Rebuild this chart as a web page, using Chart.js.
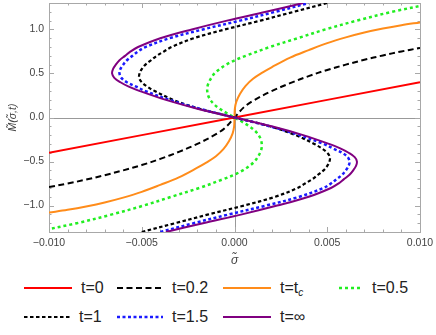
<!DOCTYPE html>
<html>
<head>
<meta charset="utf-8">
<script src="https://cdn.jsdelivr.net/npm/chart.js@4.4.1/dist/chart.umd.min.js"></script>
<style>
  body { margin: 0; background: #fff; font-family: "Liberation Sans", Arial, sans-serif; }
  #wrap { position: relative; width: 436px; height: 335px; }
  #box { position: absolute; left: 0; top: 0; width: 436px; height: 272px; }
  #legend { position: absolute; left: 0; top: 276px; width: 436px; height: 58px; }
  .item { position: absolute; height: 20px; display: flex; align-items: center; font-size: 16px; color: #222; }
  .item svg { margin-right: 9px; }
  .item sub { font-size: 10px; font-style: italic; vertical-align: -3px; }
</style>
</head>
<body>
<div id="wrap">
  <div id="box"><canvas id="respChart"></canvas></div>
  <div id="legend"></div>
</div>
<script>
// series labels
const seriesLabels = ['t=0', 't=0.2', 't=t_c', 't=0.5', 't=1', 't=1.5', 't=\u221E'];
const xTickValues = [-0.010, -0.005, 0, 0.005, 0.010];
const yTickValues = [-1.0, -0.5, 0, 0.5, 1.0];

// t=0 : straight line
const sigmaT0 = [-0.010, 0, 0.010];
const mT0 = [-0.40, 0, 0.40];

// t=0.2
const sigmaT02 = [-0.010, -0.009, -0.008, -0.007, -0.006, -0.005, -0.004, -0.003, -0.002, -0.001, -0.0005, 0,
                  0.0005, 0.001, 0.002, 0.003, 0.004, 0.005, 0.006, 0.007, 0.008, 0.009, 0.010];
const mT02 = [-0.79, -0.75, -0.705, -0.655, -0.60, -0.54, -0.47, -0.39, -0.30, -0.19, -0.115, 0,
              0.115, 0.19, 0.30, 0.39, 0.47, 0.54, 0.60, 0.655, 0.705, 0.75, 0.79];

// t=t_c
const sigmaTc = [-0.010, -0.009, -0.008, -0.007, -0.006, -0.005, -0.004, -0.003, -0.002, -0.0015, -0.001, -0.0006, -0.0003, -0.0001, -0.00002, 0,
                 0.00002, 0.0001, 0.0003, 0.0006, 0.001, 0.0015, 0.002, 0.003, 0.004, 0.005, 0.006, 0.007, 0.008, 0.009, 0.010];
const mTc = [-1.08, -1.048, -1.01, -0.965, -0.91, -0.845, -0.765, -0.68, -0.57, -0.51, -0.44, -0.36, -0.27, -0.18, -0.10, 0,
             0.10, 0.18, 0.27, 0.36, 0.44, 0.51, 0.57, 0.68, 0.765, 0.845, 0.91, 0.965, 1.01, 1.048, 1.08];

// t=0.5
const mT05 = [-1.3, -1.2, -1.1, -1.0, -0.9, -0.8, -0.7, -0.65, -0.6, -0.55, -0.5, -0.45, -0.4, -0.35, -0.3, -0.25, -0.2, -0.15, -0.1, -0.05, 0,
              0.05, 0.1, 0.15, 0.2, 0.25, 0.3, 0.35, 0.4, 0.45, 0.5, 0.55, 0.6, 0.65, 0.7, 0.8, 0.9, 1.0, 1.1, 1.2, 1.3];
const sigmaT05 = [-0.0108, -0.0085, -0.0066, -0.0049, -0.0034, -0.0019, -0.0006, -0.00002, 0.00045, 0.00080, 0.00108, 0.00125, 0.00138, 0.00146, 0.00147, 0.00142, 0.00130, 0.00110, 0.00080, 0.00042, 0,
                  -0.00042, -0.00080, -0.00110, -0.00130, -0.00142, -0.00147, -0.00146, -0.00138, -0.00125, -0.00108, -0.00080, -0.00045, 0.00002, 0.0006, 0.0019, 0.0034, 0.0049, 0.0066, 0.0085, 0.0108];

// t=1, t=1.5, t=inf share one M grid (finer around the turning points)
const mGrid = [-1.3, -1.2, -1.1, -1.0, -0.9, -0.8, -0.75, -0.7, -0.65, -0.6, -0.55, -0.5, -0.45, -0.4, -0.35, -0.3, -0.2, -0.1, 0,
               0.1, 0.2, 0.3, 0.35, 0.4, 0.45, 0.5, 0.55, 0.6, 0.65, 0.7, 0.75, 0.8, 0.9, 1.0, 1.1, 1.2, 1.3];
const sigmaT1 = [-0.0050, -0.0032, -0.0014, 0.0005, 0.0022, 0.0034, 0.0038, 0.0042, 0.0045, 0.0048, 0.0050, 0.00512, 0.00514, 0.0050, 0.0047, 0.0043, 0.0033, 0.0019, 0,
                 -0.0019, -0.0033, -0.0043, -0.0047, -0.0050, -0.00514, -0.00512, -0.0050, -0.0048, -0.0045, -0.0042, -0.0038, -0.0034, -0.0022, -0.0005, 0.0014, 0.0032, 0.0050];
const sigmaT15 = [-0.0040, -0.0022, -0.0003, 0.0017, 0.0035, 0.0048, 0.0052, 0.0055, 0.0058, 0.0060, 0.00615, 0.0062, 0.0061, 0.0058, 0.0053, 0.0048, 0.0035, 0.0019, 0,
                  -0.0019, -0.0035, -0.0048, -0.0053, -0.0058, -0.0061, -0.0062, -0.00615, -0.0060, -0.0058, -0.0055, -0.0052, -0.0048, -0.0035, -0.0017, 0.0003, 0.0022, 0.0040];
const sigmaTinf = [-0.0037, -0.0017, 0.0004, 0.0023, 0.0040, 0.0052, 0.0056, 0.0059, 0.0062, 0.0064, 0.00655, 0.0066, 0.00648, 0.00615, 0.0057, 0.0051, 0.0037, 0.0020, 0,
                   -0.0020, -0.0037, -0.0051, -0.0057, -0.00615, -0.00648, -0.0066, -0.00655, -0.0064, -0.0062, -0.0059, -0.0056, -0.0052, -0.0040, -0.0023, -0.0004, 0.0017, 0.0037];

const seriesData = [
    [sigmaT0, mT0],
    [sigmaT02, mT02],
    [sigmaTc, mTc],
    [sigmaT05, mT05],
    [sigmaT1, mGrid],
    [sigmaT15, mGrid],
    [sigmaTinf, mGrid]
];

// styles
const seriesStyle = [
    { color: '#ff0000', dash: [], width: 2 },
    { color: '#000000', dash: [6, 3.5], width: 2 },
    { color: '#ff8c1a', dash: [], width: 2 },
    { color: '#22ee22', dash: [3, 3], width: 2.5 },
    { color: '#000000', dash: [3.5, 2.5], width: 2.2 },
    { color: '#1a1aff', dash: [3, 2.5], width: 2.5 },
    { color: '#800080', dash: [], width: 2 }
];

const minus = s => s.replace('-', '\u2212');

const frameTicks = {
    id: 'frameTicks',
    beforeDatasetsDraw(chart) {
        const {ctx, chartArea: a, scales: {x, y}} = chart;
        ctx.save();
        ctx.strokeStyle = '#999';
        ctx.lineWidth = 1;
        // zero axes
        const x0 = Math.round(x.getPixelForValue(0)) + 0.5;
        const y0 = Math.round(y.getPixelForValue(0)) + 0.5;
        ctx.beginPath();
        ctx.moveTo(x0, a.top); ctx.lineTo(x0, a.bottom);
        ctx.moveTo(a.left, y0); ctx.lineTo(a.right, y0);
        ctx.stroke();
        // frame
        ctx.strokeStyle = '#a8a8a8';
        ctx.strokeRect(Math.round(a.left) + 0.5, Math.round(a.top) + 0.5,
            Math.round(a.right - a.left), Math.round(a.bottom - a.top));
        // ticks inside the frame on all sides
        ctx.beginPath();
        for (let i = -10; i <= 10; i++) {
            const px = Math.round(x.getPixelForValue(i / 1000)) + 0.5;
            const len = i % 5 === 0 ? 5 : 2.5;
            ctx.moveTo(px, a.bottom); ctx.lineTo(px, a.bottom - len);
            ctx.moveTo(px, a.top); ctx.lineTo(px, a.top + len);
        }
        for (let j = -13; j <= 13; j++) {
            const py = Math.round(y.getPixelForValue(j / 10)) + 0.5;
            const len = j % 5 === 0 ? 5 : 2.5;
            ctx.moveTo(a.left, py); ctx.lineTo(a.left + len, py);
            ctx.moveTo(a.right, py); ctx.lineTo(a.right - len, py);
        }
        ctx.stroke();
        ctx.restore();
    }
};

const datasets = seriesData.map(([xs, ys], i) => ({
    label: seriesLabels[i],
    data: xs.map((v, k) => ({x: v, y: ys[k]})),
    showLine: true,
    borderColor: seriesStyle[i].color,
    borderWidth: seriesStyle[i].width,
    borderDash: seriesStyle[i].dash,
    borderCapStyle: 'butt',
    pointRadius: 0,
    tension: 0.35,
    fill: false,
    order: seriesLabels.length - i
}));

const fontFamily = '"Liberation Sans", Arial, sans-serif';
const tickFont = { family: fontFamily, size: 10.5 };

new Chart(document.getElementById('respChart').getContext('2d'), {
    type: 'scatter',
    data: { datasets: datasets },
    options: {
        responsive: true,
        maintainAspectRatio: false,
        animation: false,
        devicePixelRatio: 1,
        layout: { padding: { top: 3, right: 16, left: 0, bottom: 0 } },
        elements: { line: { capBezierPoints: false } },
        plugins: { legend: { display: false }, tooltip: { enabled: false } },
        scales: {
            x: {
                type: 'linear',
                min: -0.010,
                max: 0.010,
                grid: { display: false, drawTicks: false },
                border: { display: false },
                afterBuildTicks: s => { s.ticks = xTickValues.map(v => ({ value: v })); },
                ticks: {
                    padding: 5,
                    color: '#444',
                    font: tickFont,
                    maxRotation: 0,
                    callback: v => minus(v.toFixed(3))
                },
                title: {
                    display: true,
                    text: '\u03C3\u0303',
                    color: '#444',
                    font: { family: fontFamily, size: 12, style: 'italic' },
                    padding: { top: 0, bottom: 4 }
                },
                afterFit: s => { s.height = 40; s.paddingLeft = 0; s.paddingRight = 0; }
            },
            y: {
                type: 'linear',
                min: -1.3,
                max: 1.3,
                grid: { display: false, drawTicks: false },
                border: { display: false },
                afterBuildTicks: s => { s.ticks = yTickValues.map(v => ({ value: v })); },
                ticks: {
                    padding: 5,
                    color: '#444',
                    font: tickFont,
                    callback: v => minus(v.toFixed(1))
                },
                title: {
                    display: true,
                    text: 'M\u0303(\u03C3\u0303,t)',
                    color: '#444',
                    font: { family: fontFamily, size: 10.5, style: 'italic' },
                    padding: { top: 7, bottom: 0 }
                },
                afterFit: s => { s.width = 49; s.paddingTop = 0; s.paddingBottom = 0; }
            }
        }
    },
    plugins: [frameTicks]
});

// legend laid out in two rows, four columns
const legendCols = [24, 117, 223, 339];
const legendRows = [2, 31];
const legendLen = [48, 46, 48, 24, 46, 46, 48];
const legend = document.getElementById('legend');
seriesLabels.forEach((lab, i) => {
    const st = seriesStyle[i];
    const el = document.createElement('div');
    el.className = 'item';
    el.style.left = legendCols[i % 4] + 'px';
    el.style.top = legendRows[Math.floor(i / 4)] + 'px';
    const len = legendLen[i];
    const svg = '<svg width="' + len + '" height="6"><line x1="0" y1="3" x2="' + len + '" y2="3" stroke="' + st.color +
        '" stroke-width="' + st.width + '" stroke-dasharray="' + (st.dash.length ? st.dash.join(' ') : 'none') + '"/></svg>';
    const text = lab.replace('_c', '<sub>c</sub>');
    el.innerHTML = svg + '<span>' + text + '</span>';
    legend.appendChild(el);
});
</script>
</body>
</html>
